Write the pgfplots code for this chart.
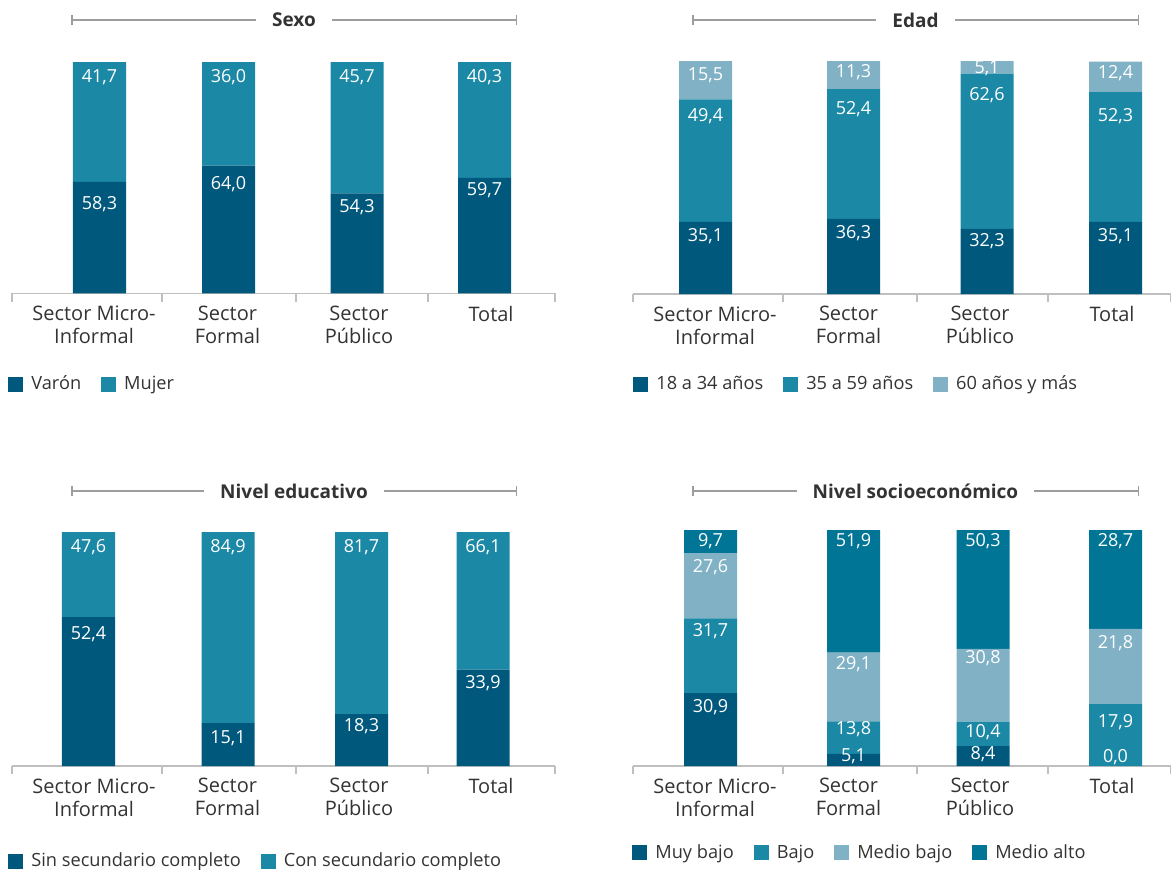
\documentclass[border=0pt]{standalone}
\usepackage{pgfplots}
\pgfplotsset{compat=1.18}
\usepackage{pgfplotstable}
\usepackage{fontspec}
\setmainfont{Open Sans}
\usetikzlibrary{arrows.meta}

\definecolor{cOscuro}{HTML}{00597D}
\definecolor{cMedio}{HTML}{1B88A5}
\definecolor{cClaro}{HTML}{80B1C5}
\definecolor{cAlto}{HTML}{007596}
\definecolor{cTexto}{HTML}{333333}
\definecolor{cEje}{HTML}{BFBFBF}
\definecolor{cTitulo}{HTML}{9D9D9C}

% --- datos (x en px desde el inicio del eje) ---
\pgfplotstableread{
x     v    m
87.5  58.3 41.7
216.5 64.0 36.0
345   54.3 45.7
472.5 59.7 40.3
}\sexo

\pgfplotstableread{
x     a    b    c
72.5  35.1 49.4 15.5
220.5 36.3 52.4 11.3
354   32.3 62.6 5.1
482.5 35.1 52.3 12.4
}\edad

\pgfplotstableread{
x     s    c
76.5  52.4 47.6
216   15.1 84.9
349.5 18.3 81.7
471   33.9 66.1
}\educ

% barra Total: alturas tal como se dibujan (llena al 100%)
\pgfplotstableread{
x     mb   b    mdb  ma
77.5  30.9 31.7 27.6 9.7
220.5 5.1  13.8 29.1 51.9
350   8.4  10.4 30.8 50.3
482.5 0.0  26.2 31.9 41.9
}\nse

% --- etiquetas: posicion en px sobre la base del eje ---
\pgfplotstableread{
x     yv   lv    ym    lm
87.5  89   58,3  216.5 41,7
216.5 109  64,0  216.5 36,0
345   86   54,3  216.5 45,7
472.5 103  59,7  216.5 40,3
}\sexoEt

\pgfplotstableread{
x     ya  la   yb  lb   yc  lc
72.5  58  35,1 178 49,4 219 15,5
220.5 61  36,3 185 52,4 222 11,3
354   53  32,3 199 62,6 226 5,1
482.5 58  35,1 178 52,3 221 12,4
}\edadEt

\pgfplotstableread{
x     ys  ls   yc  lc
76.5  132 52,4 219 47,6
216   28  15,1 219 84,9
349.5 40  18,3 219 81,7
471   83  33,9 219 66,1
}\educEt

\pgfplotstableread{
x     y1  l1   y2  l2   y3  l3   y4  l4
77.5  59  30,9 135 31,7 199 27,6 225 9,7
220.5 10  5,1  37  13,8 102 29,1 225 51,9
350   12  8,4  34  10,4 108 30,8 225 50,3
482.5 9   0,0  44  17,9 123 21,8 225 28,7
}\nseEt

\pgfplotsset{
  panel/.style={
    scale only axis,
    anchor=south west,
    xmin=0,
    ybar stacked,
    bar width=26.5pt,
    axis x line*=bottom,
    axis y line=none,
    ytick=\empty,
    x axis line style={draw=cEje, line width=0.75pt, -},
    xtick style={draw=cEje, line width=0.75pt},
    tick align=outside,
    major tick length=4pt,
    xticklabels={,,,,},
    extra x ticks={82,215.5,347,479},
    extra x tick labels={{Sector Micro-\\Informal},{Sector\\Formal},{Sector\\Público},Total},
    extra x tick style={major tick length=0pt},
    xticklabel style={font=\fontsize{10}{11.5}\selectfont, text=cTexto,
      align=center, inner sep=0pt, anchor=north, yshift=-6pt},
    legend columns=-1,
    legend style={draw=none, fill=none, inner sep=0pt, anchor=west,
      font=\fontsize{9.1}{11}\selectfont, text=cTexto,
      /tikz/every odd column/.append style={column sep=2pt},
      /tikz/every even column/.append style={column sep=8pt}},
    legend image code/.code={\fill[##1] (0pt,-3.75pt) rectangle (7.5pt,3.75pt);},
  },
  capa/.style={
    scale only axis,
    anchor=south west,
    xmin=0, ymin=0,
    hide axis,
    clip=false,
  },
  et/.style={
    draw=none, mark=none,
    nodes near coords,
    point meta=explicit symbolic,
    every node near coord/.append style={font=\fontsize{9}{10}\selectfont,
      text=white, anchor=center, inner sep=0pt},
  },
}

\begin{document}
\begin{tikzpicture}
\path[use as bounding box] (0,0) rectangle (585.5pt,434.5pt);

% Sexo
\begin{axis}[panel, at={(6pt,287.75pt)}, width=271.5pt, height=115.75pt,
  xmax=543, ymin=19.5, ymax=100,
  xtick={0,150,284,416,543},
  legend style={at={(axis description cs:-0.0074,-0.393)}}]
\addplot[fill=cOscuro, draw=none] table[x=x, y=v]{\sexo};
\addlegendentry{Varón}
\addplot[fill=cMedio, draw=none] table[x=x, y=m]{\sexo};
\addlegendentry{Mujer}
\end{axis}
\begin{axis}[capa, at={(6pt,287.75pt)}, width=271.5pt, height=115.75pt,
  xmax=543, ymax=231.5]
\addplot[et] table[x=x, y=yv, meta=lv]{\sexoEt};
\addplot[et] table[x=x, y=ym, meta=lm]{\sexoEt};
\end{axis}

% Edad
\begin{axis}[panel, at={(316.5pt,287.5pt)}, width=269pt, height=116.5pt,
  xmax=538, ymin=6, ymax=100,
  xtick={0,150,284,415,538},
  legend style={at={(axis description cs:0,-0.388)}}]
\addplot[fill=cOscuro, draw=none] table[x=x, y=a]{\edad};
\addlegendentry{18 a 34 años}
\addplot[fill=cMedio, draw=none] table[x=x, y=b]{\edad};
\addlegendentry{35 a 59 años}
\addplot[fill=cClaro, draw=none] table[x=x, y=c]{\edad};
\addlegendentry{60 años y más}
\end{axis}
\begin{axis}[capa, at={(316.5pt,287.5pt)}, width=269pt, height=116.5pt,
  xmax=538, ymax=233]
\addplot[et] table[x=x, y=ya, meta=la]{\edadEt};
\addplot[et] table[x=x, y=yb, meta=lb]{\edadEt};
\addplot[et] table[x=x, y=yc, meta=lc]{\edadEt};
\end{axis}

% Nivel educativo
\begin{axis}[panel, at={(6pt,51.5pt)}, width=271.5pt, height=117pt,
  xmax=543, ymin=0, ymax=82.4,
  xtick={0,150,284,416,543},
  legend style={at={(axis description cs:-0.0074,-0.408)}}]
\addplot[fill=cOscuro, draw=none] table[x=x, y=s]{\educ};
\addlegendentry{Sin secundario completo}
\addplot[fill=cMedio, draw=none] table[x=x, y=c]{\educ};
\addlegendentry{Con secundario completo}
\end{axis}
\begin{axis}[capa, at={(6pt,51.5pt)}, width=271.5pt, height=117pt,
  xmax=543, ymax=234]
\addplot[et] table[x=x, y=ys, meta=ls]{\educEt};
\addplot[et] table[x=x, y=yc, meta=lc]{\educEt};
\end{axis}

% Nivel socioeconomico
\begin{axis}[panel, at={(316.5pt,51.5pt)}, width=269pt, height=118pt,
  xmax=538, ymin=0, ymax=100,
  xtick={0,150,284,415,538},
  legend style={at={(axis description cs:-0.0019,-0.368)}}]
\addplot[fill=cOscuro, draw=none] table[x=x, y=mb]{\nse};
\addlegendentry{Muy bajo}
\addplot[fill=cMedio, draw=none] table[x=x, y=b]{\nse};
\addlegendentry{Bajo}
\addplot[fill=cClaro, draw=none] table[x=x, y=mdb]{\nse};
\addlegendentry{Medio bajo}
\addplot[fill=cAlto, draw=none] table[x=x, y=ma]{\nse};
\addlegendentry{Medio alto}
\end{axis}
\begin{axis}[capa, at={(316.5pt,51.5pt)}, width=269pt, height=118pt,
  xmax=538, ymax=236]
\addplot[et] table[x=x, y=y1, meta=l1]{\nseEt};
\addplot[et] table[x=x, y=y2, meta=l2]{\nseEt};
\addplot[et] table[x=x, y=y3, meta=l3]{\nseEt};
\addplot[et] table[x=x, y=y4, meta=l4]{\nseEt};
\end{axis}

% titulos con linea
\tikzset{tline/.style={draw=cTitulo, line width=0.75pt, {Bar[width=5pt]}-{Bar[width=5pt]}},
  ttext/.style={fill=white, inner xsep=8pt, inner ysep=1pt, text=cTexto,
    font=\bfseries\fontsize{9.5}{11}\selectfont}}
\draw[tline] (35.5pt,424.5pt) -- (258.5pt,424.5pt);
\node[ttext] at (147pt,424.5pt) {Sexo};
\draw[tline] (346pt,424.5pt) -- (569.5pt,424.5pt);
\node[ttext] at (457.75pt,424.5pt) {Edad};
\draw[tline] (35.5pt,189pt) -- (258.5pt,189pt);
\node[ttext] at (147pt,189pt) {Nivel educativo};
\draw[tline] (346pt,189pt) -- (569.5pt,189pt);
\node[ttext] at (457.75pt,189pt) {Nivel socioeconómico};
\end{tikzpicture}
\end{document}
